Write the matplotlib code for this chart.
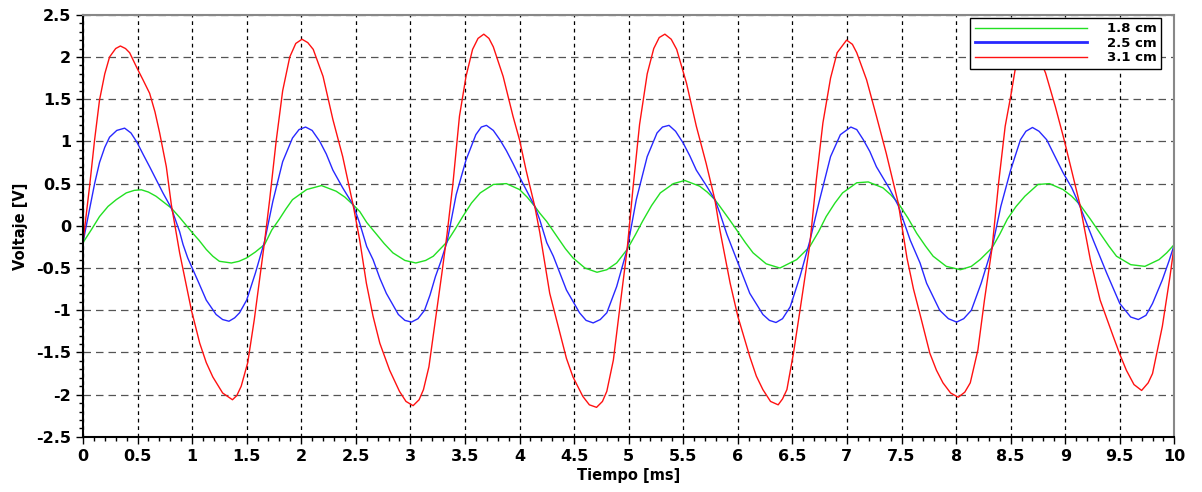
import matplotlib
matplotlib.use("Agg")
import matplotlib.pyplot as plt
from matplotlib.ticker import MultipleLocator, FormatStrFormatter

plt.rcParams.update({
    "font.family": "DejaVu Sans",
    "font.weight": "bold",
    "axes.labelweight": "bold",
    "xtick.labelsize": 11.5,
    "ytick.labelsize": 11.5,
    "axes.labelsize": 10.5,
    "legend.fontsize": 9.5,
})

# 1.8 cm
t_green = [0, 0.08, 0.152, 0.23, 0.305, 0.397, 0.47, 0.535, 0.60, 0.67, 0.74, 0.81, 0.886, 0.95,
           1.008, 1.063, 1.13, 1.19, 1.25, 1.36, 1.43, 1.50, 1.58, 1.665, 1.73, 1.80, 1.86, 1.92,
           2.05, 2.185, 2.32, 2.40, 2.475, 2.536, 2.60, 2.69, 2.76, 2.84, 2.95, 3.05, 3.14, 3.21,
           3.336, 3.41, 3.48, 3.56, 3.64, 3.76, 3.88, 4.00, 4.07, 4.14, 4.186, 4.25, 4.34, 4.42,
           4.49, 4.60, 4.71, 4.80, 4.89, 4.986, 5.06, 5.13, 5.21, 5.29, 5.41, 5.515, 5.65, 5.72,
           5.79, 5.836, 5.92, 5.99, 6.07, 6.14, 6.26, 6.386, 6.54, 6.66, 6.74, 6.81, 6.89, 6.96,
           7.09, 7.195, 7.33, 7.40, 7.47, 7.56, 7.64, 7.72, 7.79, 7.91, 8.04, 8.14, 8.22, 8.33,
           8.40, 8.47, 8.55, 8.63, 8.75, 8.855, 8.98, 9.06, 9.135, 9.23, 9.32, 9.40, 9.47, 9.60,
           9.73, 9.86, 9.93, 10.0]
v_green = [-0.20, -0.04, 0.11, 0.23, 0.31, 0.39, 0.42, 0.427, 0.40, 0.35, 0.28, 0.21, 0.10, 0.00,
           -0.09, -0.17, -0.28, -0.36, -0.42, -0.44, -0.42, -0.38, -0.31, -0.22, -0.05, 0.08, 0.20, 0.31,
           0.43, 0.477, 0.41, 0.34, 0.25, 0.17, 0.04, -0.10, -0.21, -0.32, -0.41, -0.44, -0.41, -0.36,
           -0.19, -0.04, 0.11, 0.27, 0.39, 0.49, 0.50, 0.43, 0.34, 0.23, 0.15, 0.05, -0.12, -0.27,
           -0.38, -0.50, -0.55, -0.52, -0.44, -0.28, -0.11, 0.06, 0.24, 0.39, 0.50, 0.537, 0.47, 0.40,
           0.31, 0.23, 0.08, -0.05, -0.20, -0.32, -0.45, -0.50, -0.40, -0.245, -0.07, 0.11, 0.27, 0.39,
           0.51, 0.52, 0.45, 0.37, 0.27, 0.09, -0.09, -0.24, -0.36, -0.48, -0.52, -0.48, -0.40, -0.26,
           -0.10, 0.08, 0.23, 0.35, 0.49, 0.50, 0.43, 0.35, 0.25, 0.08, -0.09, -0.24, -0.36, -0.46,
           -0.48, -0.40, -0.32, -0.22]

# 2.5 cm
t_blue = [0, 0.061, 0.107, 0.152, 0.20, 0.244, 0.31, 0.382, 0.44, 0.495, 0.55, 0.611, 0.67, 0.733,
          0.81, 0.886, 0.917, 0.96, 1.008, 1.063, 1.13, 1.22, 1.28, 1.338, 1.39, 1.435, 1.50, 1.58,
          1.665, 1.74, 1.83, 1.92, 1.98, 2.04, 2.10, 2.17, 2.23, 2.29, 2.38, 2.475, 2.536, 2.60,
          2.658, 2.72, 2.78, 2.89, 2.95, 3.01, 3.07, 3.13, 3.18, 3.23, 3.28, 3.336, 3.42, 3.51,
          3.60, 3.65, 3.697, 3.76, 3.82, 3.88, 3.94, 4.00, 4.06, 4.14, 4.186, 4.25, 4.31, 4.37,
          4.43, 4.55, 4.61, 4.675, 4.74, 4.80, 4.89, 4.986, 5.07, 5.17, 5.26, 5.31, 5.37, 5.43,
          5.50, 5.56, 5.62, 5.71, 5.79, 5.836, 5.90, 5.99, 6.11, 6.23, 6.29, 6.35, 6.41, 6.48,
          6.57, 6.66, 6.75, 6.85, 6.94, 7.036, 7.09, 7.15, 7.21, 7.27, 7.39, 7.47, 7.58, 7.67,
          7.73, 7.85, 7.93, 8.005, 8.07, 8.14, 8.23, 8.33, 8.41, 8.50, 8.59, 8.64, 8.70, 8.76,
          8.83, 8.98, 9.06, 9.135, 9.26, 9.38, 9.50, 9.60, 9.67, 9.74, 9.80, 9.89, 9.95, 10.0]
v_blue = [-0.20, 0.20, 0.50, 0.75, 0.93, 1.05, 1.13, 1.157, 1.10, 0.99, 0.85, 0.70, 0.55, 0.39,
          0.21, -0.07, -0.22, -0.38, -0.52, -0.68, -0.88, -1.05, -1.11, -1.13, -1.09, -1.03, -0.88, -0.56,
          -0.18, 0.29, 0.76, 1.04, 1.14, 1.17, 1.13, 1.00, 0.85, 0.66, 0.45, 0.25, 0.03, -0.245,
          -0.40, -0.62, -0.80, -1.05, -1.12, -1.14, -1.10, -1.00, -0.82, -0.60, -0.42, -0.19, 0.37, 0.78,
          1.08, 1.17, 1.19, 1.13, 1.02, 0.89, 0.74, 0.58, 0.43, 0.23, 0.07, -0.20, -0.36, -0.56,
          -0.76, -1.03, -1.12, -1.15, -1.11, -1.03, -0.72, -0.28, 0.31, 0.82, 1.10, 1.17, 1.19, 1.12,
          0.98, 0.83, 0.66, 0.48, 0.31, 0.15, -0.10, -0.40, -0.80, -1.05, -1.12, -1.145, -1.10, -0.96,
          -0.60, -0.18, 0.31, 0.82, 1.08, 1.17, 1.14, 1.02, 0.88, 0.70, 0.44, 0.24, -0.17, -0.44,
          -0.68, -1.00, -1.10, -1.14, -1.10, -1.00, -0.68, -0.26, 0.23, 0.66, 1.02, 1.12, 1.165, 1.12,
          1.02, 0.63, 0.45, 0.23, -0.18, -0.56, -0.92, -1.08, -1.11, -1.06, -0.92, -0.64, -0.42, -0.22]

# 3.1 cm
t_red = [0, 0.061, 0.107, 0.152, 0.20, 0.244, 0.30, 0.343, 0.39, 0.428, 0.495, 0.55, 0.611, 0.66,
         0.703, 0.764, 0.81, 0.886, 0.994, 1.07, 1.13, 1.19, 1.28, 1.37, 1.41, 1.45, 1.51, 1.57, 1.635, 1.665,
         1.71, 1.77, 1.83, 1.895, 1.95, 2.007, 2.06, 2.11, 2.20, 2.29, 2.38, 2.475, 2.536, 2.597,
         2.658, 2.72, 2.81, 2.90, 2.96, 3.025, 3.08, 3.12, 3.17, 3.23, 3.29, 3.336, 3.39, 3.45,
         3.51, 3.57, 3.62, 3.673, 3.72, 3.76, 3.85, 3.94, 4.00, 4.06, 4.14, 4.186, 4.277, 4.37,
         4.43, 4.49, 4.58, 4.64, 4.706, 4.76, 4.80, 4.86, 4.92, 4.986, 5.04, 5.10, 5.17, 5.23, 5.28,
         5.332, 5.39, 5.44, 5.53, 5.62, 5.71, 5.79, 5.836, 5.93, 6.00, 6.11, 6.17, 6.23, 6.30, 6.37,
         6.41, 6.45, 6.51, 6.57, 6.66, 6.72, 6.78, 6.85, 6.91, 6.997, 7.05, 7.09, 7.18, 7.27, 7.36,
         7.47, 7.55, 7.61, 7.67, 7.76, 7.82, 7.88, 7.95, 8.02, 8.08, 8.13, 8.20, 8.26, 8.33, 8.39,
         8.45, 8.50, 8.54, 8.60, 8.66, 8.72, 8.82, 8.91, 8.99, 9.06, 9.135, 9.23, 9.32, 9.44,
         9.50, 9.56, 9.63, 9.70, 9.76, 9.80, 9.89, 9.96, 10.0]
v_red = [-0.20, 0.47, 1.02, 1.49, 1.80, 2.00, 2.10, 2.13, 2.10, 2.05, 1.87, 1.73, 1.57, 1.35,
         1.10, 0.70, 0.25, -0.32, -1.00, -1.39, -1.62, -1.79, -1.98, -2.06, -2.01, -1.90, -1.62, -1.11, -0.47, -0.18,
         0.30, 1.00, 1.60, 2.00, 2.16, 2.21, 2.17, 2.09, 1.77, 1.26, 0.82, 0.25, -0.17, -0.68,
         -1.07, -1.39, -1.71, -1.96, -2.08, -2.13, -2.06, -1.94, -1.67, -1.11, -0.55, -0.10, 0.50, 1.30,
         1.77, 2.09, 2.22, 2.27, 2.22, 2.12, 1.77, 1.30, 1.02, 0.66, 0.23, -0.08, -0.80, -1.27,
         -1.57, -1.79, -2.02, -2.12, -2.15, -2.08, -1.96, -1.59, -0.96, -0.28, 0.45, 1.20, 1.80, 2.10, 2.23,
         2.27, 2.21, 2.09, 1.69, 1.18, 0.74, 0.31, -0.05, -0.68, -1.07, -1.55, -1.78, -1.94, -2.08, -2.12,
         -2.05, -1.94, -1.51, -1.00, -0.22, 0.55, 1.22, 1.75, 2.05, 2.20, 2.15, 2.05, 1.73, 1.30, 0.86,
         0.27, -0.38, -0.75, -1.05, -1.51, -1.71, -1.86, -1.98, -2.03, -1.97, -1.86, -1.47, -0.88, -0.26, 0.51,
         1.18, 1.53, 1.84, 2.10, 2.20, 2.12, 1.81, 1.41, 1.02, 0.65, 0.25, -0.40, -0.88, -1.31,
         -1.52, -1.71, -1.88, -1.95, -1.86, -1.75, -1.19, -0.60, -0.22]

labels = ["1.8 cm", "2.5 cm", "3.1 cm"]

fig = plt.figure(figsize=(12.02, 4.92), dpi=100)
ax = fig.add_axes([0.069, 0.112, 0.908, 0.858])

ax.plot(t_green, v_green, color="#22e022", lw=1.0, label=labels[0])
ax.plot(t_blue, v_blue, color="#2828ff", lw=1.0, label=labels[1])
ax.plot(t_red, v_red, color="#ff1111", lw=1.0, label=labels[2])

ax.set_xlim(0, 10)
ax.set_ylim(-2.5, 2.5)
ax.xaxis.set_major_locator(MultipleLocator(0.5))
ax.xaxis.set_minor_locator(MultipleLocator(0.1))
ax.yaxis.set_major_locator(MultipleLocator(0.5))
ax.yaxis.set_minor_locator(MultipleLocator(0.1))
ax.xaxis.set_major_formatter(FormatStrFormatter("%g"))
ax.yaxis.set_major_formatter(FormatStrFormatter("%g"))
ax.tick_params(which="major", direction="out", length=5, width=1)
ax.tick_params(which="minor", direction="out", length=3, width=1)

ax.xaxis.grid(True, which="major", color="black", linestyle=(0, (3, 3)), lw=0.9)
ax.yaxis.grid(True, which="major", color="#555555", linestyle=(0, (6, 4)), lw=0.9)
ax.set_axisbelow(True)

for s in ["left", "bottom"]:
    ax.spines[s].set_color("black")
    ax.spines[s].set_linewidth(1.5)
for s in ["top", "right"]:
    ax.spines[s].set_color("#888888")
    ax.spines[s].set_linewidth(1.5)

ax.set_xlabel("Tiempo [ms]", labelpad=3)
ax.set_ylabel("Voltaje [V]", labelpad=6)

leg = ax.legend(loc="upper right", bbox_to_anchor=(0.988, 0.993), borderaxespad=0,
                handlelength=8.5, fancybox=False, framealpha=1, edgecolor="black",
                labelspacing=0.12, borderpad=0.35, handletextpad=1.5)
leg.get_frame().set_linewidth(1.0)
leg.get_lines()[1].set_linewidth(2.0)

fig.savefig("out.png", dpi=100)
